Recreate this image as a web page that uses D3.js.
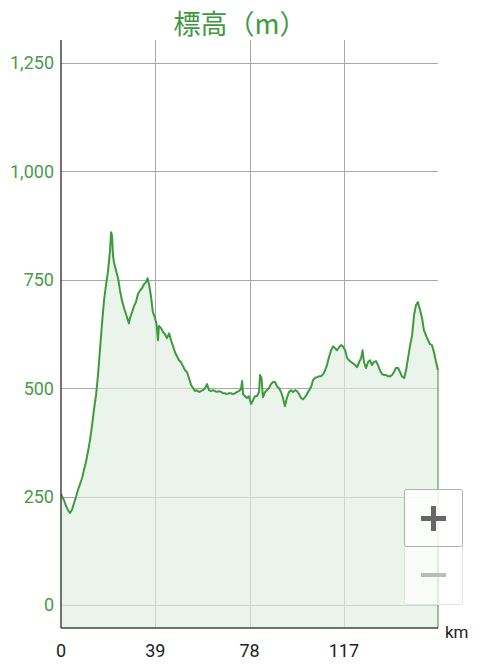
<!DOCTYPE html>
<html><head><meta charset="utf-8">
<script src="https://cdn.jsdelivr.net/npm/d3@7"></script>
<style>html,body{margin:0;padding:0;background:#fff;}svg{display:block;}</style>
</head><body><svg id="c" width="480" height="667"></svg>
<script>
const titleText = "標高（m）";
const xUnit = "km";
const xTicks = [0, 39, 78, 117];
const yTicks = [0, 250, 500, 750, 1000, 1250];
const distKm = [0,0.4,1.2,2.1,2.9,3.7,4.5,5.4,6.2,7.0,7.9,8.7,9.5,10.3,11.2,12.0,12.8,13.6,14.5,15.3,16.1,16.9,17.8,18.6,19.4,20.3,20.7,21.1,21.5,21.9,22.7,23.6,24.4,25.2,26.1,26.9,27.7,28.1,28.5,29.4,30.2,31.0,31.8,32.7,33.5,34.3,35.2,35.8,36.4,37.2,38.0,38.9,39.5,40.1,40.5,41.4,42.2,43.0,43.8,44.7,45.5,46.3,47.1,48.0,48.8,49.6,50.5,51.3,52.1,52.9,53.8,54.6,55.4,56.2,57.1,57.9,58.7,59.6,60.4,61.2,62.0,62.9,63.7,64.5,65.3,66.2,67.0,67.8,68.6,69.5,70.3,71.1,72.0,72.8,73.6,74.4,74.9,75.3,76.1,76.9,77.7,78.6,79.4,80.2,81.0,81.9,82.3,82.9,83.5,84.4,85.2,86.0,86.8,87.7,88.5,89.3,90.1,91.0,91.8,92.6,93.4,94.3,95.1,95.9,96.8,97.6,98.4,99.3,100.1,100.9,101.7,102.6,103.4,104.2,105.0,105.9,106.7,107.5,108.4,109.2,110.0,110.8,111.7,112.5,113.3,114.1,115.0,115.8,116.6,117.5,118.3,119.1,119.9,120.8,121.6,122.4,123.3,124.1,124.7,125.3,126.1,127.0,127.8,128.6,129.4,130.3,131.1,131.9,132.8,133.6,134.4,135.2,136.1,136.9,137.7,138.5,139.4,140.2,141.0,141.9,142.7,143.5,144.3,145.2,146.0,146.8,147.6,148.0,148.5,149.3,150.1,150.9,151.8,152.6,153.4,154.2,155.1,155.9];
const elevM = [256,251,242,228,219,212,219,235,249,265,279,292,311,329,355,380,412,449,484,530,587,645,702,737,767,818,859,852,806,790,772,753,725,702,684,670,656,649,661,675,689,698,716,725,730,739,744,753,739,712,675,661,647,610,643,638,629,624,615,626,610,597,583,573,564,560,550,541,537,523,507,500,493,495,491,493,495,500,509,495,493,495,493,491,493,491,488,488,486,488,488,486,488,491,493,497,516,486,481,477,481,463,472,481,481,491,530,523,479,491,495,500,509,514,514,504,500,491,477,458,477,491,495,491,495,493,486,477,474,479,486,495,502,518,523,525,527,527,532,541,553,571,587,596,592,587,594,599,596,587,569,564,560,557,553,548,560,569,587,560,546,560,564,553,560,562,553,541,532,530,530,527,527,530,537,546,546,537,527,523,541,569,596,622,668,691,698,689,680,661,633,622,610,601,599,583,560,541];

const data = distKm.map((d,i)=>({d, e: elevM[i]}));
const svg = d3.select("#c");
const L = 61, R = 438, T = 40, B = 628;
const x = d3.scaleLinear().domain([0, 155.9]).range([L, R]);
const y = d3.scaleLinear().domain([-53, 1302]).range([B, T]);
const green = "#3d9a3d";

// gridlines
svg.append("g").selectAll("line").data(yTicks).join("line")
  .attr("x1", L).attr("x2", R).attr("y1", d=>Math.round(y(d))+0.5).attr("y2", d=>Math.round(y(d))+0.5)
  .attr("stroke", "#a8a8a8").attr("stroke-width", 1);
svg.append("g").selectAll("line").data(xTicks.slice(1)).join("line")
  .attr("x1", d=>Math.round(x(d))+0.5).attr("x2", d=>Math.round(x(d))+0.5).attr("y1", T).attr("y2", B)
  .attr("stroke", "#a8a8a8").attr("stroke-width", 1);

// area
const area = d3.area().x(d=>x(d.d)).y0(B).y1(d=>y(d.e));
svg.append("path").datum(data).attr("d", area).attr("fill", "#dfeee0").attr("fill-opacity", 0.65);
// right edge
svg.append("line").attr("x1", x(155.9)).attr("x2", x(155.9)).attr("y1", y(elevM[elevM.length-1])).attr("y2", B)
  .attr("stroke", "#3d8a3d").attr("stroke-width", 1);
const line = d3.line().x(d=>x(d.d)).y(d=>y(d.e));
svg.append("path").datum(data).attr("d", line).attr("fill", "none")
  .attr("stroke", green).attr("stroke-width", 2).attr("stroke-linejoin", "round");

// axes
svg.append("line").attr("x1", L).attr("x2", L).attr("y1", T).attr("y2", B).attr("stroke", "#444").attr("stroke-width", 1.5);
svg.append("line").attr("x1", L).attr("x2", R).attr("y1", B).attr("y2", B).attr("stroke", "#3a4a3a").attr("stroke-width", 1.5);

// y labels
svg.append("g").selectAll("text").data(yTicks).join("text")
  .attr("x", 54).attr("y", d=>y(d)).attr("dy", "0.36em").attr("text-anchor", "end")
  .attr("font-family", "Roboto, 'Noto Sans', sans-serif").attr("font-size", 18).attr("fill", "#4a9a4a")
  .text(d=>d3.format(",")(d));
// x labels
svg.append("g").selectAll("text").data(xTicks).join("text")
  .attr("x", d=>x(d)).attr("y", 657).attr("text-anchor", "middle")
  .attr("font-family", "Roboto, 'Noto Sans', sans-serif").attr("font-size", 18).attr("fill", "#222")
  .text(d=>d);
svg.append("text").attr("x", 445).attr("y", 638)
  .attr("font-family", "Roboto, 'Noto Sans', sans-serif").attr("font-size", 17).attr("fill", "#222").text(xUnit);

// title
svg.append("text").attr("x", 240).attr("y", 34).attr("text-anchor", "middle")
  .attr("font-family", "'Noto Sans CJK JP', sans-serif").attr("font-size", 27).attr("fill", "#3f9a3f")
  .text(titleText);

// zoom control
const zc = svg.append("g");
zc.append("rect").attr("x", 404.5).attr("y", 489.5).attr("width", 58).attr("height", 115).attr("rx", 2)
  .attr("fill", "#fff").attr("fill-opacity", 0.7).attr("stroke", "#e4e4e4");
zc.append("rect").attr("x", 404.5).attr("y", 489.5).attr("width", 58).attr("height", 57).attr("rx", 2)
  .attr("fill", "#fff").attr("fill-opacity", 0.5).attr("stroke", "#b0b0b0");
zc.append("rect").attr("x", 421).attr("y", 516).attr("width", 25).attr("height", 5).attr("fill", "#666");
zc.append("rect").attr("x", 431).attr("y", 506).attr("width", 5).attr("height", 25).attr("fill", "#666");
zc.append("rect").attr("x", 421).attr("y", 573).attr("width", 25).attr("height", 4).attr("fill", "#bbb");
</script></body></html>
